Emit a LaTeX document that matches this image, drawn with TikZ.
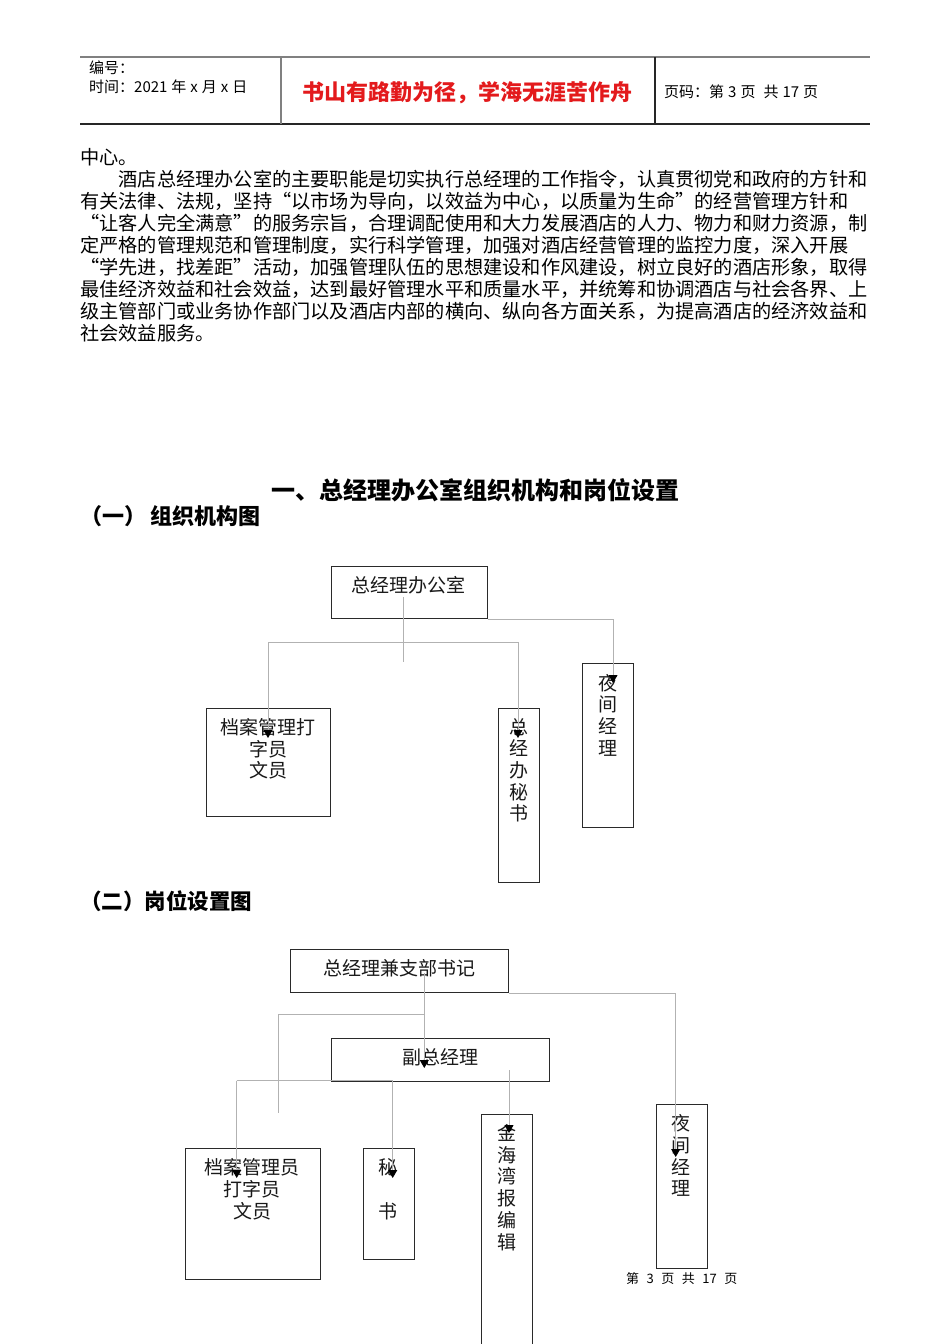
\documentclass[tikz,border=0pt]{standalone}
\usepackage{fontspec}
\setmainfont{Noto Sans CJK SC}
\usetikzlibrary{arrows.meta}
\definecolor{conncol}{HTML}{B2B2B2}
\definecolor{boxcol}{HTML}{2A2A2A}
\definecolor{hdrred}{HTML}{E31A1C}
\definecolor{hdrgrey}{HTML}{808080}
\newcommand{\lqm}{\makebox[1em][r]{“}}
\newcommand{\rqm}{\makebox[1em][l]{”}}
\newcommand{\hsp}{\hspace{4pt}}
\tikzset{
  box/.style={draw=boxcol, line width=1.3pt, anchor=north west, inner sep=0pt},
  conn/.style={draw=conncol, line width=0.9pt},
  arr/.style={-{Triangle[width=9pt,length=8pt,color=black,fill=black]}},
  ctext/.style={font=\fontsize{19}{21.7}\selectfont, align=center, inner sep=0pt, text=black!90},
  ptext/.style={font=\fontsize{19.2}{22}\selectfont, anchor=west, inner sep=0pt},
  htext/.style={font=\fontsize{15}{17}\selectfont, anchor=west, inner sep=0pt},
}
\begin{document}
\begin{tikzpicture}[x=1pt,y=-1pt]
\useasboundingbox[fill=white] (0,0) rectangle (950,1344);
% header table
\draw[hdrgrey, line width=1.2pt] (80,57) -- (870,57);
\draw[black!85, line width=1.2pt] (80,124) -- (870,124);
\draw[hdrgrey, line width=1.2pt] (281,57) -- (281,124);
\draw[black!85, line width=1.2pt] (655,57) -- (655,124);
\node[htext] (hno) at (89,68) {编号：};
\node[htext] (htime) at (89,87) {时间：2021\hsp 年\hsp x\hsp 月\hsp x\hsp 日};
\node[font=\fontsize{22}{24}\selectfont\bfseries, text=hdrred, inner sep=0pt] (hmotto) at (467,93) {书山有路勤为径，学海无涯苦作舟};
\node[htext] (hpage) at (664,92) {页码：第\hsp 3\hsp 页\hsp\hsp 共\hsp 17\hsp 页};
% paragraph
\node[ptext] (p1) at (80,157) {中心。};
\node[ptext] (p2) at (80,179) {\hspace{2em}酒店总经理办公室的主要职能是切实执行总经理的工作指令，认真贯彻党和政府的方针和};
\node[ptext] (p3) at (80,201) {有关法律、法规，坚持\lqm 以市场为导向，以效益为中心，以质量为生命\rqm 的经营管理方针和};
\node[ptext] (p4) at (80,223) {\lqm 让客人完全满意\rqm 的服务宗旨，合理调配使用和大力发展酒店的人力、物力和财力资源，制};
\node[ptext] (p5) at (80,245) {定严格的管理规范和管理制度，实行科学管理，加强对酒店经营管理的监控力度，深入开展};
\node[ptext] (p6) at (80,267) {\lqm 学先进，找差距\rqm 活动，加强管理队伍的思想建设和作风建设，树立良好的酒店形象，取得};
\node[ptext] (p7) at (80,289) {最佳经济效益和社会效益，达到最好管理水平和质量水平，并统筹和协调酒店与社会各界、上};
\node[ptext] (p8) at (80,311) {级主管部门或业务协作部门以及酒店内部的横向、纵向各方面关系，为提高酒店的经济效益和};
\node[ptext] (p9) at (80,333) {社会效益服务。};
% headings
\node[font=\fontsize{24}{26}\selectfont\bfseries, inner sep=0pt] (h1) at (475,490) {一、总经理办公室组织机构和岗位设置};
\node[font=\fontsize{22}{24}\selectfont\bfseries, anchor=west, inner sep=0pt] (h2) at (80,516) {（一）\hspace{4pt}组织机构图};
\node[font=\fontsize{21.5}{24}\selectfont\bfseries, anchor=west, inner sep=0pt] (h3) at (80,901) {（二）岗位设置图};
% ---------- chart 1 ----------
\node[box, minimum width=156pt, minimum height=52pt] (A) at (331,566) {};
\node[ctext] (At) at (408,585) {总经理办公室};
\node[box, minimum width=124pt, minimum height=108pt] (B) at (206,708) {};
\node[ctext] (Bt) at (268,749) {档案管理打\\字员\\文员};
\node[box, minimum width=41pt, minimum height=174pt] (C) at (498,708) {};
\node[ctext] (Ct) at (518.6,770.3) {总\\经\\办\\秘\\书};
\node[box, minimum width=51pt, minimum height=164pt] (D) at (582,663) {};
\node[ctext] (Dt) at (607.7,715) {夜\\间\\经\\理};
\coordinate (a0) at (403,597);
\coordinate (a0e) at (403,662);
\coordinate (aL) at (268,642);
\coordinate (aR) at (518,642);
\coordinate (aB) at (268,738);
\coordinate (aC) at (518,738);
\coordinate (aD) at (613,683);
\draw[conn] (a0) -- (a0e);
\draw[conn] (aL) -- (aR);
\draw[conn, arr] (aL) -- (aB);
\draw[conn, arr] (aR) -- (aC);
\draw[conn, arr] (A.south east) -| (aD);
% ---------- chart 2 ----------
\node[box, minimum width=218pt, minimum height=43pt] (E) at (289.5,949) {};
\node[ctext] (Et) at (399,968) {总经理兼支部书记};
\node[box, minimum width=218pt, minimum height=43pt] (F) at (331,1037.5) {};
\node[ctext] (Ft) at (440,1057) {副总经理};
\node[box, minimum width=135pt, minimum height=131pt] (G) at (184.5,1147.5) {};
\node[ctext] (Gt) at (252,1189.3) {档案管理员\\打字员\\文员};
\node[box, minimum width=51pt, minimum height=111pt] (H) at (362.5,1147.5) {};
\node[ctext] (Ht) at (388.3,1189.3) {秘\\[21.7pt]书};
\node[box, minimum width=51pt, minimum height=240pt] (I) at (481,1114) {};
\node[ctext] (It) at (507.3,1187.5) {金\\海\\湾\\报\\编\\辑};
\node[box, minimum width=51pt, minimum height=164pt] (J) at (655.5,1103.5) {};
\node[ctext] (Jt) at (680.7,1155.7) {夜\\间\\经\\理};
\node[font=\fontsize{13}{15}\selectfont, anchor=west, inner sep=0pt] (foot) at (626,1279) {第\hspace{7.5pt}3\hspace{7.5pt}页\hspace{7.5pt}共\hspace{7.5pt}17\hspace{7.5pt}页};
\coordinate (e0) at (424.3,973);
\coordinate (eF) at (424.3,1068);
\coordinate (eJ) at (675.7,1157);
\coordinate (k1) at (424.3,1014.3);
\coordinate (k2) at (278.3,1014.3);
\coordinate (k3) at (278.3,1113.3);
\coordinate (f1) at (236.7,1080.7);
\coordinate (f2) at (392.7,1080.7);
\coordinate (fG) at (236.7,1178);
\coordinate (fH) at (392.7,1178);
\coordinate (f3) at (509,1070);
\coordinate (fI) at (509,1133);
\draw[conn, arr] (e0) -- (eF);
\draw[conn, arr] (E.south east) -| (eJ);
\draw[conn] (k1) -- (k2) -- (k3);
\draw[conn] (f1) -- (f2);
\draw[conn, arr] (f1) -- (fG);
\draw[conn, arr] (f2) -- (fH);
\draw[conn, arr] (f3) -- (fI);
\end{tikzpicture}
\end{document}
